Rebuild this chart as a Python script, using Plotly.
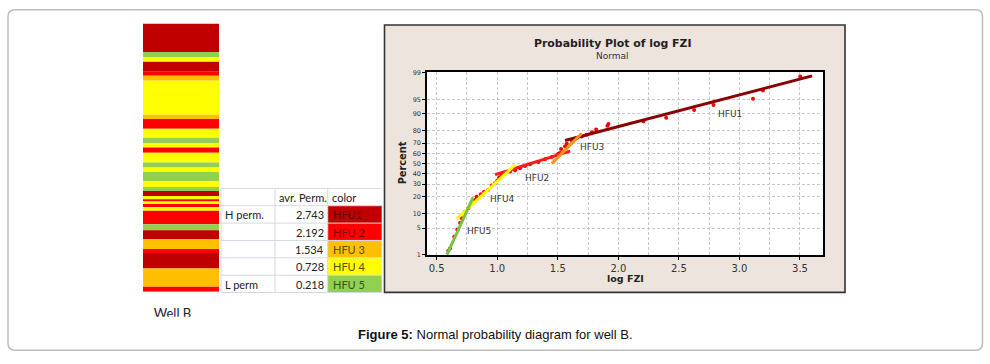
import plotly.graph_objects as go
from statistics import NormalDist

W, H = 990, 364
_nd = NormalDist()


def z(p):
    return _nd.inv_cdf(p / 100.0)


def fx(px):
    return px / W


def fy(py):
    return 1 - py / H


# ---------------- data ----------------
# depth strip (HFU code per interval, depth measured from the top of the log, arbitrary units)
strip_top = [0, 29, 34, 39, 49, 53.3, 58.3, 93, 97.3, 107.3, 116.3, 121.7, 126.3, 131.7, 141.7,
             146.7, 151.3, 160.7, 166.7, 170.7, 175.7, 179, 181.5, 184, 187, 190.7, 204.7, 210.7,
             219.7, 229.7, 234, 249.7, 268.3]
strip_bottom = strip_top[1:] + [273.3]
strip_unit = [1, 5, 4, 1, 2, 3, 4, 3, 2, 4, 5, 4, 2, 4, 5, 4, 5, 4, 5, 1, 4, 2, 4, 2, 4, 2, 5, 1, 3, 2, 1, 3, 2]

unit_names = ["HFU1", "HFU 2", "HFU 3", "HFU 4", "HFU 5"]
unit_colors = ["#C00000", "#FF0000", "#FFC000", "#FFFF00", "#92D050"]
unit_text_colors = ["#600000", "#800000", "#604500", "#505000", "#30561A"]
table_labels = ["H perm.", "", "", "", "L perm"]
table_header = ["", "avr. Perm.", "color"]
avg_perm = [2.743, 2.192, 1.534, 0.728, 0.218]

# probability plot points (log FZI, cumulative percent)
fzi_x = [0.596, 0.610, 0.645, 0.670, 0.693, 0.707, 0.734, 0.761, 0.789, 0.817, 0.830, 0.864,
         0.891, 0.926, 0.955, 0.982, 1.001, 1.017, 1.037, 1.064, 1.106, 1.147, 1.188, 1.230,
         1.271, 1.340, 1.395, 1.450, 1.492, 1.505, 1.519, 1.527, 1.546, 1.560, 1.574, 1.616,
         1.657, 1.698, 1.740, 1.781, 1.817, 1.910, 1.918, 2.207, 2.395, 2.626, 2.786, 3.112,
         3.194, 3.502]
fzi_pct = [1.3, 1.5, 3.1, 4.6, 6.5, 8.2, 11.0, 12.7, 15.5, 17.6, 19.8, 21.7,
           23.4, 25.3, 28.9, 30.9, 33.3, 36.3, 38.9, 40.1, 42.1, 43.4, 45.4, 47.7,
           49.4, 51.7, 54.4, 56.7, 58.6, 59.9, 60.8, 64.6, 61.5, 67.1, 69.5, 72.1,
           74.2, 75.6, 76.9, 78.8, 80.9, 83.3, 84.5, 86.1, 87.9, 91.5, 93.3, 95.1,
           96.9, 98.7]

# fitted straight lines for each flow unit
hfu_labels = ["HFU1", "HFU2", "HFU3", "HFU4", "HFU5"]
fit_x = [[1.56, 3.60], [0.982, 1.602], [1.45, 1.698], [0.665, 1.147], [0.585, 0.80]]
fit_pct = [[72.3, 98.75], [38.9, 62.5], [50.0, 78.1], [7.9, 48.7], [1.0, 19.5]]
fit_colors = ["#8B0000", "#FF1A1A", "#F7941D", "#FFFF00", "#7CC242"]
label_x = [2.924, 1.326, 1.786, 1.042, 0.852]
label_pct = [89.9, 35.8, 66.5, 18.0, 4.16]

x_ticks = [0.5, 1.0, 1.5, 2.0, 2.5, 3.0, 3.5]
x_minor = [0.75, 1.25, 1.75, 2.25, 2.75, 3.25]
y_ticks = [1, 5, 10, 20, 30, 40, 50, 60, 70, 80, 90, 95, 99]

# ---------------- figure ----------------
fig = go.Figure()

# probability plot
fig.add_trace(go.Scatter(x=fzi_x, y=[z(p) for p in fzi_pct], mode="markers",
                         marker=dict(color="#FF0000", size=4), xaxis="x", yaxis="y",
                         hoverinfo="skip", cliponaxis=False))
for i in range(5):
    fig.add_trace(go.Scatter(x=fit_x[i], y=[z(p) for p in fit_pct[i]], mode="lines",
                             line=dict(color=fit_colors[i], width=3), xaxis="x", yaxis="y",
                             hoverinfo="skip"))

# strip log
for t, b, u in zip(strip_top, strip_bottom, strip_unit):
    fig.add_trace(go.Bar(x=[0], y=[b - t], base=[t], width=1,
                         marker=dict(color=unit_colors[u - 1], line=dict(width=0)),
                         xaxis="x2", yaxis="y2", hoverinfo="skip"))

# clipped "Well B" label
fig.add_trace(go.Scatter(x=[0.5], y=[0.12], mode="text", text=["Well B"],
                         textfont=dict(family="Lato", size=13, color="#222"),
                         xaxis="x3", yaxis="y3", cliponaxis=True, hoverinfo="skip"))

shapes = []
ann = []

# outer rounded frame
r = 7
x0, x1, y0, y1 = 8, 982.5, 7, 354
path = (f"M {fx(x0 + r)},{fy(y0)} L {fx(x1 - r)},{fy(y0)} Q {fx(x1)},{fy(y0)} {fx(x1)},{fy(y0 + r)} "
        f"L {fx(x1)},{fy(y1 - r)} Q {fx(x1)},{fy(y1)} {fx(x1 - r)},{fy(y1)} "
        f"L {fx(x0 + r)},{fy(y1)} Q {fx(x0)},{fy(y1)} {fx(x0)},{fy(y1 - r)} "
        f"L {fx(x0)},{fy(y0 + r)} Q {fx(x0)},{fy(y0)} {fx(x0 + r)},{fy(y0)} Z")
shapes.append(dict(type="path", xref="paper", yref="paper", path=path,
                   line=dict(color="#BDBDBD", width=1.5), layer="below"))
# chart panel
shapes.append(dict(type="rect", xref="paper", yref="paper", x0=fx(384.5), x1=fx(845), y0=fy(295), y1=fy(22.5),
                   fillcolor="#EDE5DD", line=dict(color="#333333", width=1.6), layer="below"))
shapes.append(dict(type="rect", xref="paper", yref="paper", x0=fx(427), x1=fx(823), y0=fy(257), y1=fy(70),
                   fillcolor="white", line=dict(width=0), layer="below"))

# table
col_edges = [221, 275, 327.7, 381.7]
row_edges = [189 + 17.7 * k for k in range(7)]
tfont = dict(family="Lato", size=11, color="#222")
for k in range(5):
    ya, yb = row_edges[k + 1], row_edges[k + 2]
    shapes.append(dict(type="rect", xref="paper", yref="paper", x0=fx(col_edges[2]), x1=fx(col_edges[3]),
                       y0=fy(yb), y1=fy(ya), fillcolor=unit_colors[k], line=dict(width=0), layer="below"))
for ye in row_edges:
    shapes.append(dict(type="line", xref="paper", yref="paper", x0=fx(col_edges[0]), x1=fx(col_edges[3]),
                       y0=fy(ye), y1=fy(ye), line=dict(color="#D3D8E2", width=1), layer="below"))
for xe in col_edges[:3]:
    shapes.append(dict(type="line", xref="paper", yref="paper", x0=fx(xe), x1=fx(xe),
                       y0=fy(row_edges[-1]), y1=fy(row_edges[0]), line=dict(color="#D3D8E2", width=1), layer="below"))
hx = [col_edges[0] + 2, col_edges[1] + 2, col_edges[2] + 2]
for j, h in enumerate(table_header):
    if h:
        ann.append(dict(text=h, x=fx(hx[j]), y=fy((row_edges[0] + row_edges[1]) / 2 + 0.5), xref="paper", yref="paper",
                        showarrow=False, font=tfont, xanchor="left", yanchor="middle"))
for k in range(5):
    yc = fy((row_edges[k + 1] + row_edges[k + 2]) / 2 + 0.5)
    if table_labels[k]:
        ann.append(dict(text=table_labels[k], x=fx(col_edges[0] + 2), y=yc, xref="paper", yref="paper",
                        showarrow=False, font=tfont, xanchor="left", yanchor="middle"))
    ann.append(dict(text=f"{avg_perm[k]:.3f}", x=fx(col_edges[2] - 2), y=yc, xref="paper", yref="paper",
                    showarrow=False, font=tfont, xanchor="right", yanchor="middle"))
    ann.append(dict(text=unit_names[k], x=fx(col_edges[2] + 3), y=yc, xref="paper", yref="paper",
                    showarrow=False, font=dict(family="Lato", size=11, color=unit_text_colors[k]),
                    xanchor="left", yanchor="middle"))

fig.update_layout(shapes=shapes)

ann.append(dict(text="<b>Probability Plot of log FZI</b>", x=fx(612.7), y=fy(41.5), xref="paper", yref="paper",
                showarrow=False, font=dict(family="DejaVu Sans", size=10.9, color="#222"),
                xanchor="center", yanchor="middle"))
ann.append(dict(text="Normal", x=fx(612.7), y=fy(54.3), xref="paper", yref="paper",
                showarrow=False, font=dict(family="DejaVu Sans", size=9, color="#333"),
                xanchor="center", yanchor="middle"))
ann.append(dict(text="<b>Percent</b>", x=fx(402.5), y=fy(163), xref="paper", yref="paper", textangle=-90,
                showarrow=False, font=dict(family="DejaVu Sans", size=9.8, color="#222"),
                xanchor="center", yanchor="middle"))
ann.append(dict(text="<b>log FZI</b>", x=fx(625.3), y=fy(281), xref="paper", yref="paper",
                showarrow=False, font=dict(family="DejaVu Sans", size=9.5, color="#222"),
                xanchor="center", yanchor="middle"))
for lab, lx, lp in zip(hfu_labels, label_x, label_pct):
    ann.append(dict(text=lab, x=lx, y=z(lp), xref="x", yref="y", showarrow=False,
                    font=dict(family="DejaVu Sans", size=9, color="#333"),
                    xanchor="center", yanchor="middle"))
ann.append(dict(text="<b>Figure 5:</b> Normal probability diagram for well B.", x=fx(495), y=fy(337.5),
                xref="paper", yref="paper", showarrow=False,
                font=dict(family="Liberation Sans", size=13, color="#111"),
                xanchor="center", yanchor="middle"))
fig.update_layout(annotations=ann)

gd = "3px,2px"
fig.update_layout(
    width=W, height=H, margin=dict(l=0, r=0, t=0, b=0), autosize=False,
    paper_bgcolor="white", plot_bgcolor="rgba(0,0,0,0)", showlegend=False,
    barmode="overlay",
    xaxis=dict(domain=[fx(427), fx(823)], range=[0.42, 3.69], tickvals=x_ticks,
               ticktext=[f"{v:.1f}" for v in x_ticks],
               showgrid=True, gridcolor="#C8C8C8", griddash=gd, gridwidth=1,
               minor=dict(tickvals=x_minor, showgrid=True, gridcolor="#C8C8C8", griddash=gd, gridwidth=1, ticks=""),
               showline=True, mirror=True, linecolor="black", linewidth=1.5,
               ticks="outside", ticklen=3, tickcolor="black", tickwidth=1,
               tickfont=dict(family="DejaVu Sans", size=10, color="#333"),
               zeroline=False, anchor="y", fixedrange=True),
    yaxis=dict(domain=[fy(257), fy(70)], range=[-2.335, 2.35], tickvals=[z(v) for v in y_ticks],
               ticktext=[str(v) for v in y_ticks],
               showgrid=True, gridcolor="#C8C8C8", griddash=gd, gridwidth=1,
               showline=True, mirror=True, linecolor="black", linewidth=1.5,
               ticks="outside", ticklen=3, tickcolor="black", tickwidth=1,
               tickfont=dict(family="DejaVu Sans", size=6.5, color="#333"),
               zeroline=False, anchor="x", fixedrange=True),
    xaxis2=dict(domain=[fx(143), fx(219)], range=[-0.5, 0.5], visible=False, anchor="y2", fixedrange=True),
    yaxis2=dict(domain=[fy(294.3), fy(21)], range=[273.3, 0], visible=False, anchor="x2", fixedrange=True),
    xaxis3=dict(domain=[fx(130), fx(215)], range=[0, 1], visible=False, anchor="y3", fixedrange=True),
    yaxis3=dict(domain=[fy(320), fy(300)], range=[0, 1], visible=False, anchor="x3", fixedrange=True),
)

fig.write_html("out.html", config={"displayModeBar": False},
               post_script="document.body.style.margin='0';document.body.style.overflow='hidden';")
